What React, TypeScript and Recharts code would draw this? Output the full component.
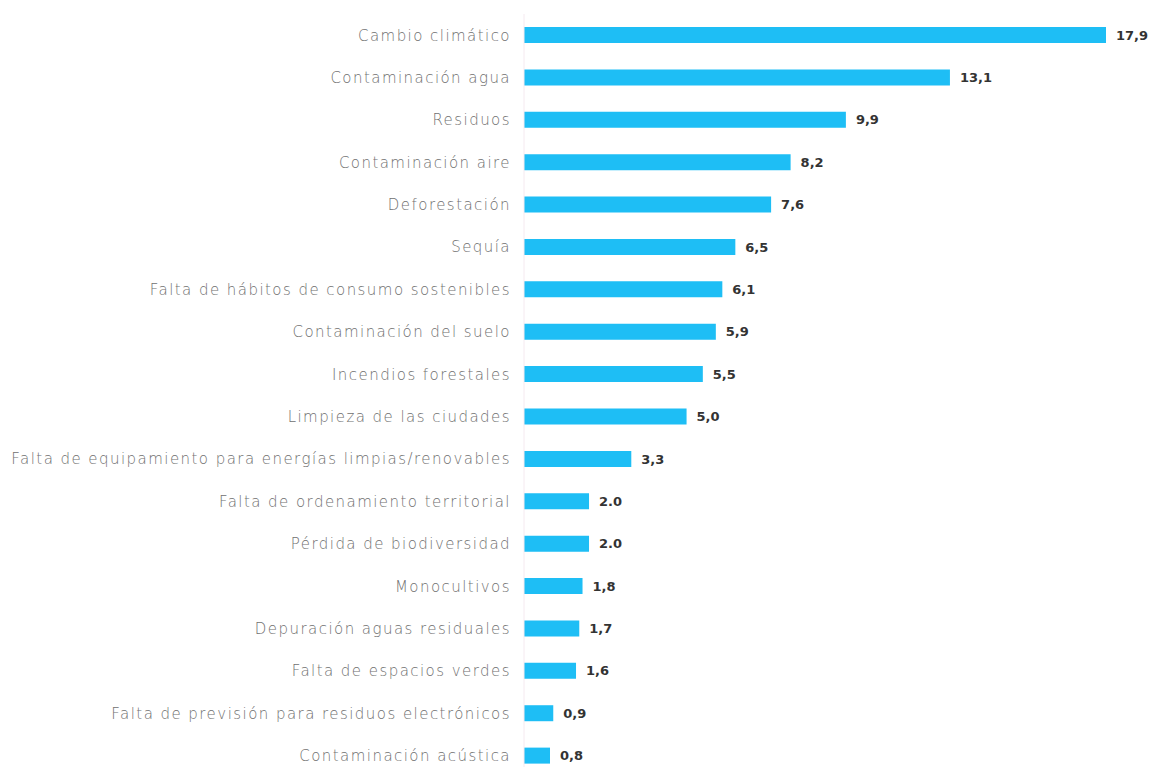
import React from "react";
import { BarChart, Bar, XAxis, YAxis, LabelList } from "recharts";

// categories, top to bottom
const categories = [
  "Cambio climático",
  "Contaminación agua",
  "Residuos",
  "Contaminación aire",
  "Deforestación",
  "Sequía",
  "Falta de hábitos de consumo sostenibles",
  "Contaminación del suelo",
  "Incendios forestales",
  "Limpieza de las ciudades",
  "Falta de equipamiento para energías limpias/renovables",
  "Falta de ordenamiento territorial",
  "Pérdida de biodiversidad",
  "Monocultivos",
  "Depuración aguas residuales",
  "Falta de espacios verdes",
  "Falta de previsión para residuos electrónicos",
  "Contaminación acústica",
];

const values = [17.9, 13.1, 9.9, 8.2, 7.6, 6.5, 6.1, 5.9, 5.5, 5.0, 3.3, 2.0, 2.0, 1.8, 1.7, 1.6, 0.9, 0.8];

// value labels as printed
const valueLabels = [
  "17,9", "13,1", "9,9", "8,2", "7,6", "6,5", "6,1", "5,9", "5,5",
  "5,0", "3,3", "2.0", "2.0", "1,8", "1,7", "1,6", "0,9", "0,8",
];

const data = categories.map((name, i) => ({
  name,
  value: values[i],
  label: valueLabels[i],
}));

const FONT = "'DejaVu Sans', sans-serif";

export default function App() {
  return (
    <div style={{ position: "absolute", left: 0, top: 0, background: "#fff" }}>
      <BarChart
        width={1154}
        height={790}
        data={data}
        layout="vertical"
        margin={{ top: 14, right: 48, bottom: 13, left: 0 }}
        barCategoryGap={0}
      >
        <XAxis type="number" domain={[0, 17.9]} hide />
        <YAxis
          type="category"
          dataKey="name"
          width={524}
          axisLine={{ stroke: "#f5eaf0" }}
          tickLine={false}
          tickSize={0}
          tickMargin={13}
          interval={0}
          tick={{ fontSize: 15, fill: "#707070", fontFamily: FONT, fontWeight: 300, letterSpacing: 1.45 }}
        />
        <Bar dataKey="value" fill="#1ebef5" barSize={16} isAnimationActive={false}>
          <LabelList
            dataKey="label"
            position="right"
            offset={10}
            style={{ fontSize: 13, fill: "#333", fontWeight: 700, fontFamily: FONT }}
          />
        </Bar>
      </BarChart>
    </div>
  );
}
